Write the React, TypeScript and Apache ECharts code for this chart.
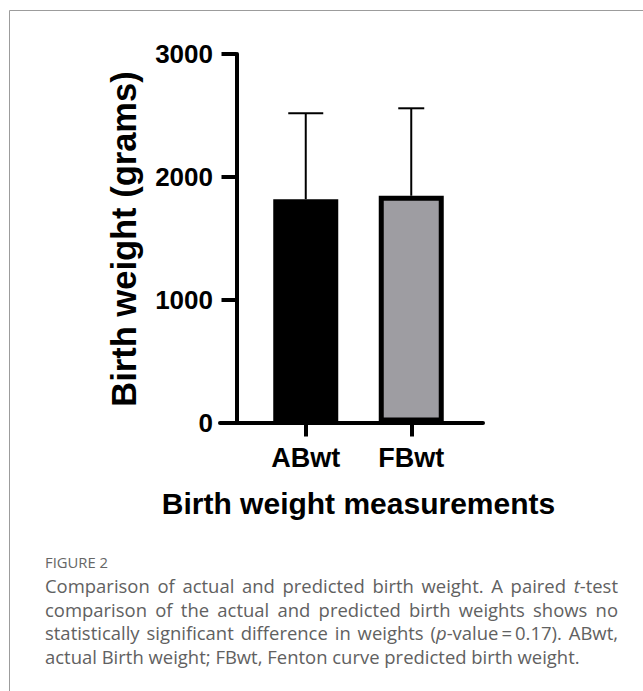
import React, { useEffect, useRef } from "react";
import * as echarts from "echarts";

// ---- data ----
const categories = ["ABwt", "FBwt"];
const meanValues = [1818, 1846];
const sdValues = [699, 712];
const yTickValues = [0, 1000, 2000, 3000];
const yAxisTitle = "Birth weight (grams)";
const xAxisTitle = "Birth weight measurements";
const figureLabel = "FIGURE 2";
const captionLines = [
  "Comparison of actual and predicted birth weight. A paired {t}-test",
  "comparison of the actual and predicted birth weights shows no",
  "statistically significant difference in weights ({p}-value\u2009=\u20090.17). ABwt,",
  "actual Birth weight; FBwt, Fenton curve predicted birth weight.",
];

// ---- styles ----
const FONT = '"Liberation Sans", Arial, Helvetica, sans-serif';
const CAP_FONT = '"Open Sans", "Noto Sans", sans-serif';
const BAR_FILLS = ["#000000", "#9e9da2"];
const CAP_WIDTHS = [35, 26];
const CAPTION_LEFT = 45;
const CAPTION_RIGHT = 618;
const CAPTION_LAST_WIDTH = 535;
const CAPTION_BASELINES = [592.3, 616.2, 639.8, 663.3];
const CAPTION_COLOR = "#616161";

function buildCaption(): any[] {
  const canvas = document.createElement("canvas");
  const ctx = canvas.getContext("2d") as CanvasRenderingContext2D;
  const m = (t: string, size: number, it: boolean) => {
    ctx.font = `${it ? "italic " : ""}${size}px ${CAP_FONT}`;
    return ctx.measureText(t).width;
  };
  const parse = (w: string) => {
    const segs: { t: string; it: boolean }[] = [];
    const re = /\{([^}]*)\}/g;
    let last = 0;
    let mm: RegExpExecArray | null;
    while ((mm = re.exec(w))) {
      if (mm.index > last) segs.push({ t: w.slice(last, mm.index), it: false });
      segs.push({ t: mm[1], it: true });
      last = re.lastIndex;
    }
    if (last < w.length) segs.push({ t: w.slice(last), it: false });
    return segs;
  };
  const wordW = (segs: { t: string; it: boolean }[], size: number) =>
    segs.reduce((a, g) => a + m(g.t, size, g.it), 0);
  const lineW = (line: string, size: number) => {
    const words = line.split(" ").map(parse);
    return (
      words.reduce((a, s) => a + wordW(s, size), 0) +
      (words.length - 1) * m(" ", size, false)
    );
  };
  let fs = (16 * CAPTION_LAST_WIDTH) / lineW(captionLines[3], 16);
  if (!isFinite(fs) || fs < 12 || fs > 20) fs = 16;
  let fs2 = (13 * 63) / m(figureLabel, 13, false);
  if (!isFinite(fs2) || fs2 < 10 || fs2 > 16) fs2 = 13;

  const els: any[] = [];
  els.push({
    type: "text",
    x: CAPTION_LEFT,
    y: 567.5 - 0.388 * fs2,
    style: {
      text: figureLabel,
      fontSize: fs2,
      fontFamily: CAP_FONT,
      fill: "#666666",
      align: "left",
      verticalAlign: "middle",
    },
  });
  captionLines.forEach((line, li) => {
    const words = line.split(" ").map(parse);
    const widths = words.map((s) => wordW(s, fs));
    const total = widths.reduce((a, b) => a + b, 0);
    const justify = li < captionLines.length - 1;
    const gap = justify
      ? (CAPTION_RIGHT - CAPTION_LEFT - total) / (words.length - 1)
      : m(" ", fs, false);
    let x = CAPTION_LEFT;
    const y = CAPTION_BASELINES[li] - 0.388 * fs;
    words.forEach((segs, wi) => {
      const hasItalic = segs.some((s) => s.it);
      const text = segs.map((s) => (s.it ? `{i|${s.t}}` : s.t)).join("");
      els.push({
        type: "text",
        x,
        y,
        style: {
          text,
          fontSize: fs,
          fontFamily: CAP_FONT,
          fill: CAPTION_COLOR,
          align: "left",
          verticalAlign: "middle",
          ...(hasItalic
            ? {
                rich: {
                  i: {
                    fontStyle: "italic",
                    fontSize: fs,
                    fontFamily: CAP_FONT,
                    fill: CAPTION_COLOR,
                  },
                },
              }
            : {}),
        },
      });
      x += widths[wi] + gap;
    });
  });
  return els;
}

export default function App() {
  const ref = useRef<HTMLDivElement>(null);
  useEffect(() => {
    if (!ref.current) return;
    const chart = echarts.init(ref.current, undefined, { renderer: "svg" });
    const yMin = yTickValues[0];
    const yMax = yTickValues[yTickValues.length - 1];
    const yInterval = yTickValues[1] - yTickValues[0];

    const option: any = {
      animation: false,
      backgroundColor: "#ffffff",
      textStyle: { fontFamily: FONT },
      grid: [
        { left: 253, width: 211, top: 54, height: 368.5, outerBoundsMode: "none", containLabel: false },
        { left: 220, width: 263, top: 54, height: 368.5, outerBoundsMode: "none", containLabel: false },
      ],
      xAxis: [
        {
          type: "category",
          gridIndex: 0,
          data: categories,
          axisLine: { show: false },
          axisTick: {
            show: true,
            alignWithLabel: true,
            length: 14,
            lineStyle: { color: "#000", width: 4 },
          },
          axisLabel: {
            fontSize: 27,
            fontWeight: "bold",
            color: "#000",
            margin: 21.7,
            fontFamily: FONT,
          },
          splitLine: { show: false },
        },
        {
          type: "value",
          gridIndex: 1,
          min: 0,
          max: 1,
          axisLine: { show: true, lineStyle: { color: "#000", width: 4 } },
          axisTick: { show: false },
          axisLabel: { show: false },
          splitLine: { show: false },
          z: 10,
        },
      ],
      yAxis: [
        {
          type: "value",
          gridIndex: 0,
          min: yMin,
          max: yMax,
          interval: yInterval,
          offset: 16.5,
          axisLine: { show: true, lineStyle: { color: "#000", width: 4 } },
          axisTick: { show: true, length: 15, lineStyle: { color: "#000", width: 4 } },
          axisLabel: {
            fontSize: 26,
            fontWeight: "bold",
            color: "#000",
            margin: 23.5,
            fontFamily: FONT,
            formatter: (v: number) => String(v),
          },
          splitLine: { show: false },
        },
        { type: "value", gridIndex: 1, min: 0, max: 1, show: false },
      ],
      series: [
        {
          type: "bar",
          xAxisIndex: 0,
          yAxisIndex: 0,
          barWidth: 65,
          itemStyle: { borderColor: "#000", borderWidth: 5 },
          data: meanValues.map((v, i) => ({
            value: v,
            itemStyle: { color: BAR_FILLS[i] },
          })),
          z: 2,
        },
        {
          type: "custom",
          xAxisIndex: 0,
          yAxisIndex: 0,
          z: 3,
          data: categories.map((_, i) => [i, meanValues[i], sdValues[i]]),
          renderItem: (params: any, api: any) => {
            const idx = api.value(0);
            const mean = api.value(1);
            const sd = api.value(2);
            const base = api.coord([idx, mean]);
            const top = api.coord([idx, mean + sd]);
            const cw = CAP_WIDTHS[params.dataIndex] || 30;
            return {
              type: "group",
              children: [
                {
                  type: "line",
                  shape: { x1: base[0], y1: base[1], x2: top[0], y2: top[1] },
                  style: { stroke: "#000", lineWidth: 2 },
                },
                {
                  type: "line",
                  shape: { x1: top[0] - cw / 2, y1: top[1], x2: top[0] + cw / 2, y2: top[1] },
                  style: { stroke: "#000", lineWidth: 2 },
                },
              ],
            };
          },
        },
      ],
      graphic: [
        {
          type: "rect",
          shape: { x: 9.5, y: 10.5, width: 800, height: 800 },
          style: { fill: "none", stroke: "#9c9c9c", lineWidth: 1 },
          silent: true,
        },
        {
          type: "text",
          x: 124,
          y: 239,
          rotation: Math.PI / 2,
          style: {
            text: yAxisTitle,
            fontSize: 34.5,
            fontWeight: "bold",
            fontFamily: FONT,
            fill: "#000",
            align: "center",
            verticalAlign: "middle",
          },
        },
        {
          type: "text",
          x: 358.5,
          y: 503,
          style: {
            text: xAxisTitle,
            fontSize: 30,
            fontWeight: "bold",
            fontFamily: FONT,
            fill: "#000",
            align: "center",
            verticalAlign: "middle",
          },
        },
        ...buildCaption(),
      ],
    };
    chart.setOption(option);
    return () => chart.dispose();
  }, []);
  return (
    <div
      ref={ref}
      style={{
        position: "fixed",
        left: 0,
        top: 0,
        width: 643,
        height: 691,
        background: "#fff",
      }}
    />
  );
}
